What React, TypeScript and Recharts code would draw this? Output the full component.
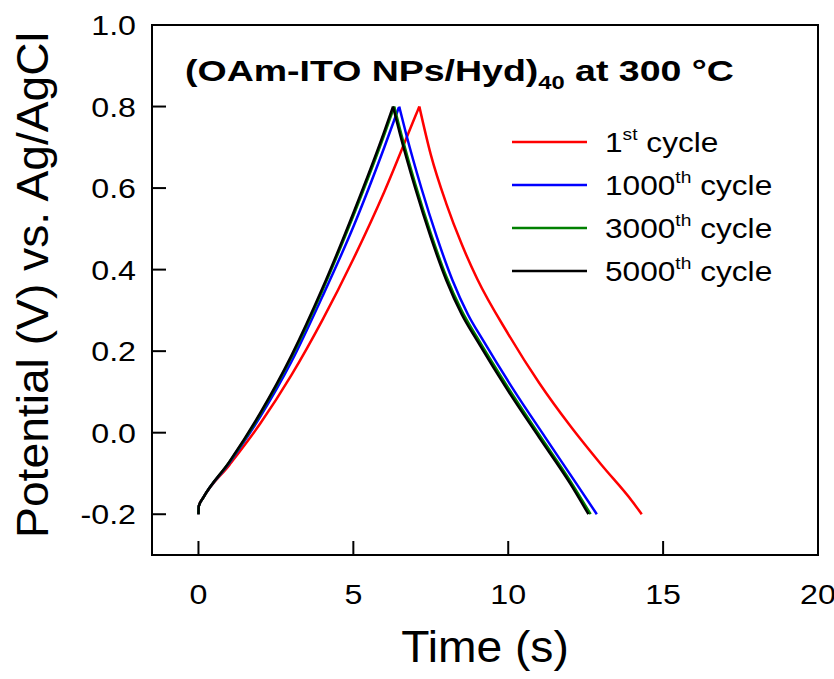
import React from 'react'
import { LineChart, Line, XAxis, YAxis, Legend } from 'recharts'

// axis ticks
const TIME_TICKS = [0, 5, 10, 15, 20]
const POTENTIAL_TICKS = [-0.2, 0, 0.2, 0.4, 0.6, 0.8, 1.0]

// galvanostatic charge / discharge curves
const cycle1Time = [0, 0.01, 0.15, 1, 2, 3, 4, 5, 6, 7, 7.13, 7.5, 8, 8.5, 9, 10, 11, 12, 13, 14, 14.31]
const cycle1Potential = [-0.2, -0.18, -0.16, -0.079, 0.023, 0.141, 0.276, 0.426, 0.591, 0.776, 0.8, 0.682, 0.562, 0.462, 0.377, 0.242, 0.122, 0.017, -0.078, -0.168, -0.2]

const cycle1000Time = [0, 0.01, 0.15, 1, 2, 3, 4, 5, 6, 6.48, 6.7, 7.2, 7.7, 8.2, 8.7, 9.2, 10.2, 11.2, 12.2, 12.86]
const cycle1000Potential = [-0.2, -0.18, -0.16, -0.074, 0.04, 0.174, 0.334, 0.505, 0.7, 0.8, 0.734, 0.599, 0.479, 0.374, 0.29, 0.225, 0.102, -0.012, -0.125, -0.2]

const cycle3000Time = [0, 0.01, 0.15, 1, 2, 3, 4, 5, 6, 6.32, 6.5, 7, 7.5, 8, 8.5, 9, 10, 11, 12, 12.66]
const cycle3000Potential = [-0.2, -0.18, -0.16, -0.072, 0.046, 0.185, 0.349, 0.532, 0.731, 0.8, 0.746, 0.61, 0.489, 0.383, 0.299, 0.233, 0.11, -0.005, -0.118, -0.2]

const cycle5000Time = [0, 0.01, 0.15, 1, 2, 3, 4, 5, 6, 6.28, 6.5, 7, 7.5, 8, 8.5, 9, 10, 11, 12, 12.59]
const cycle5000Potential = [-0.2, -0.18, -0.16, -0.071, 0.049, 0.189, 0.354, 0.539, 0.739, 0.8, 0.734, 0.599, 0.479, 0.374, 0.29, 0.225, 0.102, -0.012, -0.125, -0.2]

const SERIES = [
  { id: 'c1', num: '1', sup: 'st', color: '#ff0000', time: cycle1Time, potential: cycle1Potential },
  { id: 'c1000', num: '1000', sup: 'th', color: '#0000ff', time: cycle1000Time, potential: cycle1000Potential },
  { id: 'c3000', num: '3000', sup: 'th', color: '#008000', time: cycle3000Time, potential: cycle3000Potential },
  { id: 'c5000', num: '5000', sup: 'th', color: '#000000', time: cycle5000Time, potential: cycle5000Potential },
]

const X_DOMAIN: [number, number] = [-1.5, 20]
const Y_DOMAIN: [number, number] = [-0.3, 1.0]

// chart geometry: plot box = margins + axis sizes
const W = 834
const H = 679
const MARGIN = { top: 25, right: 16, bottom: 0, left: 0 }
const Y_AXIS_W = 152
const X_AXIS_H = 124
const BOX = {
  left: MARGIN.left + Y_AXIS_W,
  top: MARGIN.top,
  right: W - MARGIN.right,
  bottom: H - MARGIN.bottom - X_AXIS_H,
}
const TICK_LEN = 14
const FONT = '"Liberation Sans", Arial, sans-serif'

// same linear mapping recharts uses for the box, for the inward tick marks
const px = (t: number) => BOX.left + ((t - X_DOMAIN[0]) / (X_DOMAIN[1] - X_DOMAIN[0])) * (BOX.right - BOX.left)
const py = (v: number) => BOX.bottom - ((v - Y_DOMAIN[0]) / (Y_DOMAIN[1] - Y_DOMAIN[0])) * (BOX.bottom - BOX.top)

// split each curve at its peak so the smoothing keeps the turn-around sharp
function branches(time: number[], potential: number[]) {
  const pts = time.map((t, i) => ({ t, v: potential[i] }))
  const k = potential.indexOf(Math.max(...potential))
  return [pts.slice(0, k + 1), pts.slice(k)]
}

// the original lettering is a bit wider than Arial, hence the scaleX
function YTick({ x, y, payload }: any) {
  return (
    <text transform={`translate(${x},${y}) scale(1.15,1)`} textAnchor="end" dy="0.36em"
      fontSize={28} fontFamily={FONT} fill="#000">
      {Number(payload.value).toFixed(1)}
    </text>
  )
}

function XTick({ x, y, payload }: any) {
  return (
    <text transform={`translate(${x},${y}) scale(1.15,1)`} textAnchor="middle" dy="0.71em"
      fontSize={28} fontFamily={FONT} fill="#000">
      {payload.value}
    </text>
  )
}

function LegendBox() {
  return (
    <svg width={330} height={180}>
      {SERIES.map((s, i) => {
        const cy = 22 + i * 43
        return (
          <g key={s.id}>
            <line x1={12} x2={87} y1={cy} y2={cy} stroke={s.color} strokeWidth={2.5} />
            <text transform={`translate(105,${cy + 10}) scale(1.13,1)`} fontSize={28} fontFamily={FONT} fill="#000">
              {s.num}
              <tspan fontSize={17} dy={-12}>{s.sup}</tspan>
              <tspan fontSize={28} dy={12}> cycle</tspan>
            </text>
          </g>
        )
      })}
    </svg>
  )
}

export default function App() {
  return (
    <div style={{ position: 'absolute', left: 0, top: 0, width: W, height: H, background: '#fff' }}>
      <LineChart width={W} height={H} margin={MARGIN}>
        <XAxis
          type="number"
          dataKey="t"
          domain={X_DOMAIN}
          allowDataOverflow
          ticks={TIME_TICKS}
          height={X_AXIS_H}
          tickSize={0}
          tickMargin={29}
          tick={<XTick />}
          axisLine={{ stroke: '#000', strokeWidth: 2 }}
          tickLine={false}
          label={() => (
            <text transform="translate(485,662) scale(1.05,1)" textAnchor="middle" fontSize={44}
              fontFamily={FONT} fill="#000">Time (s)</text>
          )}
        />
        <YAxis
          type="number"
          domain={Y_DOMAIN}
          allowDataOverflow
          ticks={POTENTIAL_TICKS}
          width={Y_AXIS_W}
          tickSize={0}
          tickMargin={16}
          tick={<YTick />}
          axisLine={{ stroke: '#000', strokeWidth: 2 }}
          tickLine={false}
          label={() => (
            <text transform="translate(48,285) rotate(-90) scale(1.05,1)" textAnchor="middle" fontSize={44}
              fontFamily={FONT} fill="#000">Potential (V) vs. Ag/AgCl</text>
          )}
        />
        {SERIES.flatMap((s) =>
          branches(s.time, s.potential).map((pts, j) => (
            <Line
              key={`${s.id}-${j}`}
              data={pts}
              dataKey="v"
              type="monotone"
              stroke={s.color}
              strokeWidth={2.5}
              dot={false}
              legendType="none"
              isAnimationActive={false}
            />
          )),
        )}
        <Legend
          layout="vertical"
          align="center"
          verticalAlign="middle"
          wrapperStyle={{ left: 500, top: 120, width: 330, height: 180 }}
          content={<LegendBox />}
        />
      </LineChart>
      {/* box frame, inward tick marks and the title */}
      <svg width={W} height={H} style={{ position: 'absolute', left: 0, top: 0, pointerEvents: 'none' }}>
        <rect x={BOX.left} y={BOX.top} width={BOX.right - BOX.left} height={BOX.bottom - BOX.top}
          fill="none" stroke="#000" strokeWidth={2} />
        {TIME_TICKS.map((t) => (
          <line key={`xt${t}`} x1={px(t)} x2={px(t)} y1={BOX.bottom} y2={BOX.bottom - TICK_LEN} stroke="#000" strokeWidth={2} />
        ))}
        {POTENTIAL_TICKS.map((v) => (
          <line key={`yt${v}`} x1={BOX.left} x2={BOX.left + TICK_LEN} y1={py(v)} y2={py(v)} stroke="#000" strokeWidth={2} />
        ))}
        <text transform="translate(185,81) scale(1.25,1)" fontSize={30} fontWeight="bold" fontFamily={FONT} fill="#000">
          (OAm-ITO NPs/Hyd)
          <tspan fontSize={19} dy={8}>40</tspan>
          <tspan fontSize={30} dy={-8}> at 300 °C</tspan>
        </text>
      </svg>
    </div>
  )
}
